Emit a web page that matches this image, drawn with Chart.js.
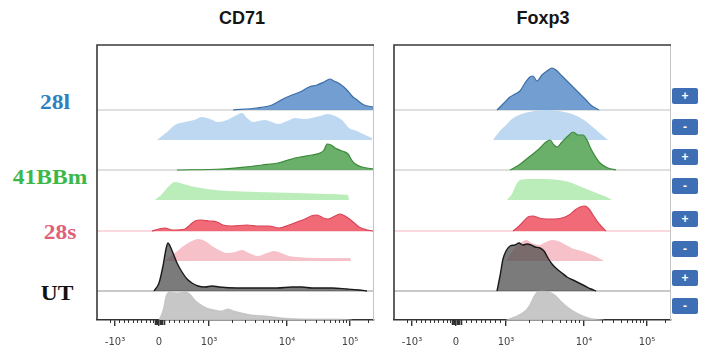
<!DOCTYPE html>
<html><head><meta charset="utf-8">
<script src="https://cdn.jsdelivr.net/npm/chart.js@4.4.1/dist/chart.umd.min.js"></script>
<style>
html,body{margin:0;padding:0;background:#fff;width:707px;height:360px;overflow:hidden;position:relative;font-family:"Liberation Sans",Arial,sans-serif;}
canvas{position:absolute;}
.title{position:absolute;top:8px;font-weight:bold;font-size:18px;color:#151515;transform:translateX(-50%);white-space:nowrap;}
.lab{position:absolute;font-family:"Liberation Serif","Times New Roman",serif;font-weight:bold;font-size:21px;transform:translate(-50%,-50%) scaleX(1.12);white-space:nowrap;}
.badge{position:absolute;left:672px;width:26px;height:16px;background:#3e6fb4;color:#fff;font-weight:bold;font-size:12px;line-height:16px;text-align:center;border-radius:2px;transform:translateY(-50%);}
</style></head>
<body>
<div id="root"></div>
<script>
// ---- data (x in display channels of the biexponential axis, y = event density per row) ----
const panelTitles = ['CD71', 'Foxp3'];
const groups = ['28l', '41BBm', '28s', 'UT'];
const rowSigns = ['+', '-', '+', '-', '+', '-', '+', '-'];
const tickValues = [18, 62, 112, 190, 253];
const tickLabels = ['-10³', '0', '10³', '10⁴', '10⁵'];
const minorTickValues = [13, 22.4, 26.8, 31.2, 35.6, 40, 44.4, 48.8, 53.2, 56, 57.6, 59, 60, 61, 63, 64, 65, 66.9, 71.8, 76.7, 81.6, 86.5, 91.4, 96.3, 101.2, 106.1,
  134.5, 148.2, 158, 165.5, 171.7, 176.9, 181.4, 185.4, 208, 219, 226.9, 233, 238, 242.2, 245.9, 249.1, 271];

// CD71 panel
const cd71_28l_pos = [[136,0],[160,2],[175,5],[186,11],[195,15],[203,18],[212,23],[220,25],[227,28],[233,31],[237,29],[243,26],[250,20],[255,14],[260,10],[267,5],[276,3]];
const cd71_28l_neg = [[60,0],[70,8],[78,15],[88,18],[97,20],[105,23],[113,21],[121,18],[130,20],[138,24],[145,27],[150,22],[156,18],[162,19],[168,20],[175,18],[181,16],[190,19],[198,22],[207,21],[215,22],[223,24],[231,26],[238,24],[245,20],[252,12],[260,9],[268,5],[275,2]];
const cd71_41bb_pos = [[80,0],[125,1],[148,3],[165,5],[181,7],[198,12],[215,15],[223,17],[227,20],[230,26],[234,25],[238,22],[245,19],[251,16],[254,11],[257,7],[265,3],[277,1]];
const cd71_41bb_neg = [[58,0],[65,6],[72,14],[78,18],[83,17],[90,15],[98,13],[110,11],[131,9],[160,8],[198,7],[230,6],[251,5],[252,0]];
const cd71_28s_pos = [[55,0],[62,2],[68,3],[75,1],[88,2],[93,6],[98,10],[104,11],[112,10],[120,9],[126,6],[135,5],[150,6],[160,5],[172,5],[182,3],[192,6],[200,9],[208,12],[214,15],[220,16],[226,13],[231,12],[238,15],[243,17],[248,15],[255,10],[262,4],[270,1],[277,0]];
const cd71_28s_neg = [[68,0],[78,8],[88,16],[95,20],[101,22],[108,20],[115,15],[122,11],[130,8],[138,9],[145,11],[152,8],[161,5],[170,8],[177,10],[184,8],[192,5],[200,4],[220,3],[240,3],[253,3],[254,0]];
const cd71_ut_pos = [[57,0],[62,8],[66,25],[69,42],[71,48],[73,45],[76,38],[80,28],[85,19],[90,12],[95,8],[101,5],[108,4],[115,5],[122,4],[140,3],[160,3],[180,3],[195,4],[205,4],[215,3],[235,3],[250,2],[262,1],[270,0]];
const cd71_ut_neg = [[62,0],[66,10],[69,24],[72,28],[80,27],[88,28],[93,26],[98,20],[103,16],[110,12],[118,10],[124,9],[131,11],[137,9],[145,7],[155,5],[170,4],[186,2],[210,1],[240,1],[255,0]];

// Foxp3 panel
const foxp3_28l_pos = [[103,0],[110,7],[116,13],[121,16],[126,19],[131,27],[136,33],[139,34],[143,29],[148,35],[153,39],[158,42],[162,40],[168,34],[176,26],[184,18],[192,10],[198,4],[205,0]];
const foxp3_28l_neg = [[99,0],[105,8],[112,15],[118,21],[125,25],[135,28],[150,30],[165,29],[178,26],[190,20],[200,12],[208,5],[214,0]];
const foxp3_41bb_pos = [[116,0],[125,5],[135,13],[145,21],[152,28],[156,30],[160,25],[163,23],[168,28],[174,34],[179,38],[184,35],[189,35],[193,30],[196,23],[201,14],[206,7],[214,2],[222,0]];
const foxp3_41bb_neg = [[113,0],[118,6],[122,15],[126,20],[135,21],[150,21],[165,20],[175,18],[185,14],[195,10],[205,6],[213,3],[218,0]];
const foxp3_28s_pos = [[119,0],[124,4],[129,9],[134,14],[139,15],[145,13],[152,12],[160,12],[168,13],[175,16],[181,21],[186,24],[191,25],[195,22],[199,16],[203,10],[207,5],[212,0]];
const foxp3_28s_neg = [[112,0],[120,12],[128,19],[132,21],[138,18],[145,16],[152,19],[158,21],[164,20],[172,16],[180,12],[188,10],[196,7],[203,4],[210,0]];
const foxp3_ut_pos = [[103,0],[106,15],[109,32],[112,40],[116,45],[121,46],[125,48],[129,46],[133,47],[137,46],[141,44],[146,43],[150,40],[154,33],[158,27],[163,22],[168,18],[173,14],[179,11],[185,8],[191,5],[197,2],[202,0]];
const foxp3_ut_neg = [[112,0],[120,3],[128,7],[135,14],[140,24],[143,28],[148,29],[155,28],[161,25],[168,18],[175,12],[183,7],[192,3],[200,1],[210,0]];

const rowBaselines = [210, 180, 150, 120, 89, 59, 29, 0];

// ---- styles ----
const rowFill = ['rgba(108,153,208,0.95)', 'rgba(188,214,241,0.95)', 'rgba(98,172,98,0.95)', 'rgba(183,236,183,0.95)',
                 'rgba(240,98,112,0.95)', 'rgba(246,186,196,0.9)', 'rgba(72,72,72,0.72)', 'rgba(196,196,196,0.95)'];
const rowLine = ['#3d6ea6', 'rgba(188,214,241,0.95)', '#3b8a3b', 'rgba(183,236,183,0.95)',
                 '#d94456', 'rgba(246,186,196,0.9)', '#1a1a1a', 'rgba(180,180,180,0.9)'];
const rowLineW = [1.2, 0, 1.2, 0, 1.2, 0, 1.4, 0.6];
const baseLineColor = ['rgba(150,150,150,0.6)', null, 'rgba(150,150,150,0.6)', null, 'rgba(244,170,184,0.9)', null, 'rgba(120,120,120,0.8)', null];
const groupColors = ['#2f7fc1', '#3cb84a', '#e0607a', '#111111'];
const labelPos = [[55, 102], [50, 177], [60, 232], [57, 293]];
const badgeY = [96, 127, 157, 186, 219, 249, 278, 306];

const panels = [
  {left: 92, titleX: 242, rows: [cd71_28l_pos, cd71_28l_neg, cd71_41bb_pos, cd71_41bb_neg, cd71_28s_pos, cd71_28s_neg, cd71_ut_pos, cd71_ut_neg]},
  {left: 389, titleX: 543, rows: [foxp3_28l_pos, foxp3_28l_neg, foxp3_41bb_pos, foxp3_41bb_neg, foxp3_28s_pos, foxp3_28s_neg, foxp3_ut_pos, foxp3_ut_neg]}
];
const X_MAX = 277, Y_MAX = 275;

const root = document.getElementById('root');

const framePlugin = {
  id: 'frame',
  afterDraw(chart) {
    const {ctx, chartArea: a, scales: {x}} = chart;
    ctx.save();
    ctx.strokeStyle = '#c4c4c4'; ctx.lineWidth = 1;
    ctx.beginPath(); ctx.moveTo(a.right - 0.5, a.top); ctx.lineTo(a.right - 0.5, a.bottom); ctx.stroke();
    ctx.strokeStyle = '#3a3a3a'; ctx.lineWidth = 1.6;
    ctx.beginPath(); ctx.moveTo(a.left, a.bottom); ctx.lineTo(a.left, a.top); ctx.lineTo(a.right, a.top); ctx.stroke();
    ctx.lineWidth = 1; ctx.strokeStyle = '#333';
    minorTickValues.forEach(v => {
      const px = Math.round(x.getPixelForValue(v)) + 0.5;
      const near0 = Math.abs(v - tickValues[1]) < 5;
      ctx.lineWidth = near0 ? 1.6 : 1;
      ctx.beginPath(); ctx.moveTo(px, a.bottom); ctx.lineTo(px, a.bottom + (near0 ? 5 : 3)); ctx.stroke();
    });
    ctx.restore();
  }
};

panels.forEach((p, pi) => {
  const t = document.createElement('div');
  t.className = 'title'; t.style.left = p.titleX + 'px'; t.textContent = panelTitles[pi];
  root.appendChild(t);

  const c = document.createElement('canvas');
  c.width = 287; c.height = 320;
  c.style.left = p.left + 'px'; c.style.top = '40px';
  root.appendChild(c);

  const datasets = [];
  p.rows.forEach((pts, i) => {
    const b = rowBaselines[i];
    if (baseLineColor[i]) {
      datasets.push({
        data: [{x: 0, y: b}, {x: X_MAX, y: b}],
        borderColor: baseLineColor[i], borderWidth: 1, pointRadius: 0, fill: false, order: 100
      });
    }
    datasets.push({
      data: pts.map(q => ({x: q[0], y: b + q[1]})),
      fill: {value: b},
      backgroundColor: rowFill[i],
      borderColor: rowLine[i],
      borderWidth: rowLineW[i],
      pointRadius: 0,
      cubicInterpolationMode: 'monotone',
      order: 7 - i
    });
  });

  new Chart(c, {
    type: 'line',
    data: {datasets},
    options: {
      responsive: false, animation: false,
      layout: {padding: {left: 5, right: 5, top: 5, bottom: 0}},
      plugins: {legend: {display: false}, tooltip: {enabled: false}},
      scales: {
        x: {
          type: 'linear', min: 0, max: X_MAX,
          afterBuildTicks: ax => { ax.ticks = tickValues.map(v => ({value: v})); },
          afterFit: sc => { sc.height = 40; },
          ticks: {
            autoSkip: false, maxRotation: 0, padding: 10,
            color: '#444', font: {family: 'DejaVu Sans', size: 10},
            callback: (v, idx) => tickLabels[idx]
          },
          grid: {drawOnChartArea: false, drawTicks: true, tickLength: 6, color: '#333', lineWidth: 1.4},
          border: {display: true, color: '#333', width: 1.6}
        },
        y: {type: 'linear', min: 0, max: Y_MAX, display: false}
      }
    },
    plugins: [framePlugin]
  });
});

groups.forEach((g, i) => {
  const d = document.createElement('div');
  d.className = 'lab'; d.textContent = g;
  d.style.color = groupColors[i];
  d.style.left = labelPos[i][0] + 'px'; d.style.top = labelPos[i][1] + 'px';
  root.appendChild(d);
});
rowSigns.forEach((s, i) => {
  const d = document.createElement('div');
  d.className = 'badge'; d.textContent = s;
  d.style.top = badgeY[i] + 'px';
  root.appendChild(d);
});
</script>
</body></html>
